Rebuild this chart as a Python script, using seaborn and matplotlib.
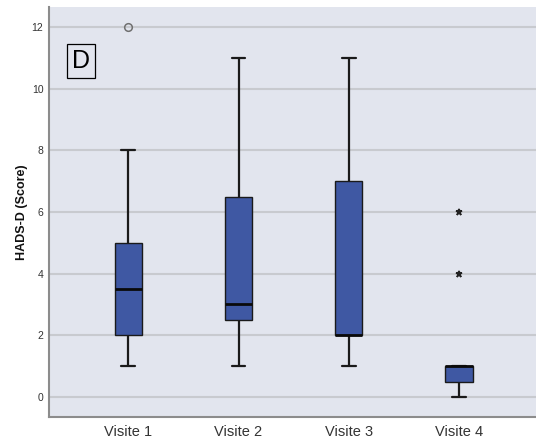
import numpy as np
import pandas as pd
import matplotlib
matplotlib.use("Agg")
import matplotlib.pyplot as plt
import seaborn as sns

# Raw scores per visit (chosen so the box statistics match the figure)
visits = ["Visite 1", "Visite 2", "Visite 3", "Visite 4"]
scores_v1 = [1, 2, 2, 2, 3, 4, 5, 5, 8, 12]
scores_v2 = [1, 2, 2, 3, 3, 3, 4, 6, 7, 9, 11]
scores_v3 = [1, 1, 2, 2, 2, 2, 5, 7, 7, 9, 11]
scores_v4 = [0, 0, 0, 1, 1, 1, 1, 1, 1, 4, 6]
y_ticks = [0, 2, 4, 6, 8, 10, 12]
panel_label = "D"
y_label = "HADS-D (Score)"

all_scores = [scores_v1, scores_v2, scores_v3, scores_v4]
df = pd.DataFrame({
    "visit": np.repeat(visits, [len(s) for s in all_scores]),
    "score": np.concatenate(all_scores),
})

sns.set_style("whitegrid", {
    "axes.facecolor": "#E2E5EE",
    "grid.color": "#C8CACF",
    "axes.edgecolor": "#8C8C8C",
})
plt.rcParams["font.family"] = ["Liberation Sans", "DejaVu Sans"]

fig = plt.figure(figsize=(5.36, 4.43), dpi=100)
ax = fig.add_axes([49 / 536, 26 / 443, 487 / 536, 410 / 443])

sns.boxplot(
    data=df, x="visit", y="score", order=visits, ax=ax,
    color="#3F58A3", saturation=1, width=0.25,
    linecolor="#1A1A1A", linewidth=1.0,
    whiskerprops={"linewidth": 1.6},
    capprops={"linewidth": 1.6},
    medianprops={"linewidth": 2.0, "color": "#0A0A0A"},
    flierprops={"marker": "o", "markersize": 5.5, "markerfacecolor": "none",
                "markeredgecolor": "#707070", "markeredgewidth": 1.1},
)

# SPSS style: extreme values in the last visit drawn as stars
for line in ax.lines:
    xd = np.asarray(line.get_xdata(), dtype=float)
    if line.get_linestyle() in ("None", "none", "") and len(xd) and np.allclose(xd, 3):
        line.set_marker("*")
        line.set_markersize(5)
        line.set_markerfacecolor("#222222")
        line.set_markeredgecolor("#222222")

ax.set_xlim(-0.72, 3.7)
ax.set_ylim(-0.65, 12.65)
ax.set_yticks(y_ticks)
ax.grid(axis="y", linewidth=1.5, color="#C8CACF")
ax.grid(axis="x", visible=False)
ax.set_axisbelow(True)

for side in ["top", "right"]:
    ax.spines[side].set_visible(False)
for side in ["left", "bottom"]:
    ax.spines[side].set_linewidth(1.5)
    ax.spines[side].set_color("#8C8C8C")

ax.tick_params(axis="both", length=0)
ax.tick_params(axis="y", labelsize=7.5, labelcolor="#333333", pad=4)
ax.tick_params(axis="x", labelsize=10.5, labelcolor="#333333", pad=6)
ax.set_xlabel("")
ax.set_ylabel(y_label, fontsize=9, fontweight="bold", labelpad=3, color="#111111")

ax.text(0.066, 0.868, panel_label, transform=ax.transAxes, fontsize=18,
        ha="center", va="center", color="black",
        bbox=dict(boxstyle="square,pad=0.2", facecolor="none", edgecolor="black", linewidth=0.9))

fig.savefig("out.png", dpi=100)
